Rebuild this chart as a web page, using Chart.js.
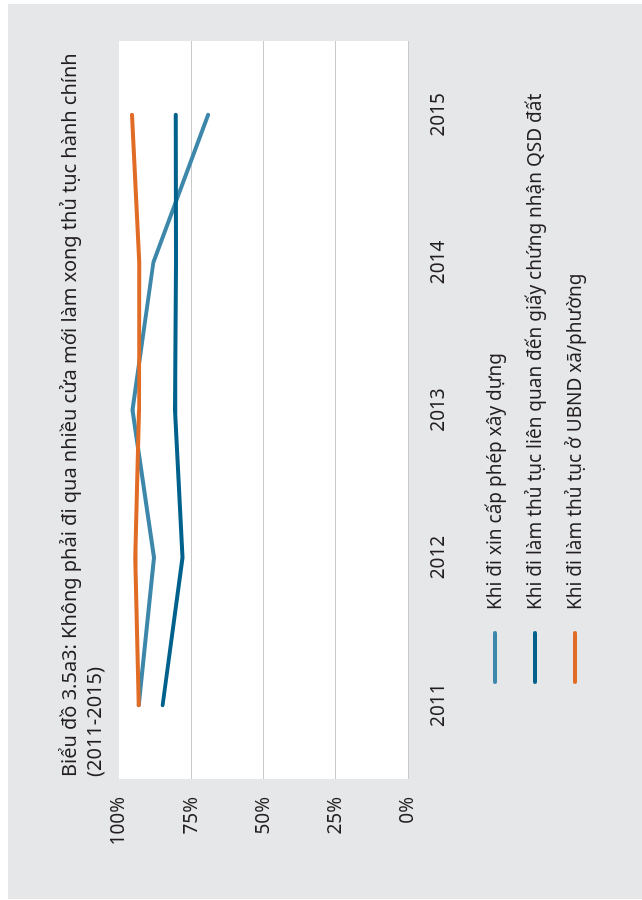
<!DOCTYPE html>
<html>
<head>
<meta charset="utf-8">
<script src="https://cdn.jsdelivr.net/npm/chart.js@4"></script>
<style>
  html, body { margin: 0; padding: 0; background: #ffffff; }
  body { width: 642px; height: 900px; overflow: hidden; position: relative; }
  /* the figure is laid out in landscape and turned a quarter turn counter-clockwise */
  #sheet { position: absolute; left: 0; top: 0; width: 900px; height: 642px;
           transform-origin: 0 0; transform: translateY(900px) rotate(-90deg); }
  #panel { position: absolute; left: 1px; top: 8px; width: 895px; height: 634px; background: #e6e7e8; }
  #chart { position: absolute; left: 0; top: 0; }
</style>
</head>
<body>
<div id="sheet">
  <div id="panel"></div>
  <canvas id="chart" width="900" height="642"></canvas>
</div>
<script>
// Share of respondents (%) who did not have to go through several offices
const years = ['2011', '2012', '2013', '2014', '2015'];
const buildingPermit = [93.2, 87.9, 95.3, 88.1, 69.2];
const landCertificate = [84.9, 78.0, 80.6, 80.3, 80.4];
const communeOffice = [93.2, 94.4, 93.1, 93.0, 95.5];
const seriesNames = [
  'Khi đi xin cấp phép xây dựng',
  'Khi đi làm thủ tục liên quan đến giấy chứng nhận QSD đất',
  'Khi đi làm thủ tục ở UBND xã/phường'
];
const valueTicks = [0, 25, 50, 75, 100];
const titleLines = [
  'Biểu đồ 3.5a3: Không phải đi qua nhiều cửa mới làm xong thủ tục hành chính',
  '(2011-2015)'
];

const FONT_FAMILY = '"Noto Sans", "Open Sans", sans-serif';
const FONT_SIZE = 19;
const TITLE_SIZE = 20;
const TEXT_COLOR = '#231f20';
const GRID_COLOR = '#c9c9c9';

// white plotting area on the grey panel
const plotBackground = {
  id: 'plotBackground',
  beforeDraw(chart) {
    const { ctx, chartArea: a } = chart;
    ctx.save();
    ctx.fillStyle = '#ffffff';
    ctx.fillRect(a.left, a.top, a.right - a.left, a.bottom - a.top);
    ctx.restore();
  }
};

// two-line heading aligned with the left edge of the plot
const headingBlock = {
  id: 'headingBlock',
  afterDraw(chart) {
    const { ctx, chartArea: a } = chart;
    ctx.save();
    ctx.fillStyle = TEXT_COLOR;
    ctx.font = TITLE_SIZE + 'px ' + FONT_FAMILY;
    ctx.textAlign = 'left';
    ctx.textBaseline = 'alphabetic';
    titleLines.forEach((line, i) => {
      ctx.fillText(line, a.left + 2, 76 + i * 25);
    });
    ctx.restore();
  }
};

// key stacked under the category labels: short stroke + series name
const stackedKey = {
  id: 'stackedKey',
  afterDraw(chart) {
    const { ctx } = chart;
    ctx.save();
    ctx.font = FONT_SIZE + 'px ' + FONT_FAMILY;
    ctx.textAlign = 'left';
    ctx.textBaseline = 'middle';
    chart.data.datasets.forEach((ds, i) => {
      const y = 495 + i * 40;
      ctx.strokeStyle = ds.borderColor;
      ctx.lineWidth = 4;
      ctx.lineCap = 'round';
      ctx.beginPath();
      ctx.moveTo(218, y);
      ctx.lineTo(267, y);
      ctx.stroke();
      ctx.fillStyle = TEXT_COLOR;
      ctx.fillText(ds.label, 290, y + 1);
    });
    ctx.restore();
  }
};

const lineStyle = (color, order) => ({
  borderColor: color,
  backgroundColor: color,
  borderWidth: 4,
  borderCapStyle: 'round',
  borderJoinStyle: 'round',
  pointRadius: 0,
  tension: 0,
  fill: false,
  order: order
});

new Chart(document.getElementById('chart'), {
  type: 'line',
  data: {
    labels: years,
    datasets: [
      Object.assign({ label: seriesNames[0], data: buildingPermit }, lineStyle('#3d87ab', 2)),
      Object.assign({ label: seriesNames[1], data: landCertificate }, lineStyle('#00628c', 1)),
      Object.assign({ label: seriesNames[2], data: communeOffice }, lineStyle('#e06c26', 0))
    ]
  },
  options: {
    responsive: false,
    animation: false,
    devicePixelRatio: 1,
    layout: { padding: { left: 0, right: 41, top: 119, bottom: 184 } },
    plugins: {
      legend: { display: false },
      title: { display: false },
      tooltip: { enabled: false }
    },
    scales: {
      x: {
        offset: true,
        grid: { display: false, drawTicks: false },
        border: { display: false },
        ticks: {
          color: TEXT_COLOR,
          font: { family: FONT_FAMILY, size: FONT_SIZE },
          padding: 19,
          maxRotation: 0
        },
        afterFit(scale) { scale.height = 50; }
      },
      y: {
        min: 0,
        max: 100,
        afterBuildTicks(scale) { scale.ticks = valueTicks.map(v => ({ value: v })); },
        ticks: {
          color: TEXT_COLOR,
          font: { family: FONT_FAMILY, size: FONT_SIZE },
          padding: 18,
          callback: v => v + '%'
        },
        grid: {
          drawTicks: false,
          lineWidth: 1,
          color: ctx => (ctx.tick && ctx.tick.value === 100) ? 'rgba(0,0,0,0)' : GRID_COLOR
        },
        border: { display: false },
        afterFit(scale) { scale.width = 121; }
      }
    }
  },
  plugins: [plotBackground, headingBlock, stackedKey]
});
</script>
</body>
</html>
